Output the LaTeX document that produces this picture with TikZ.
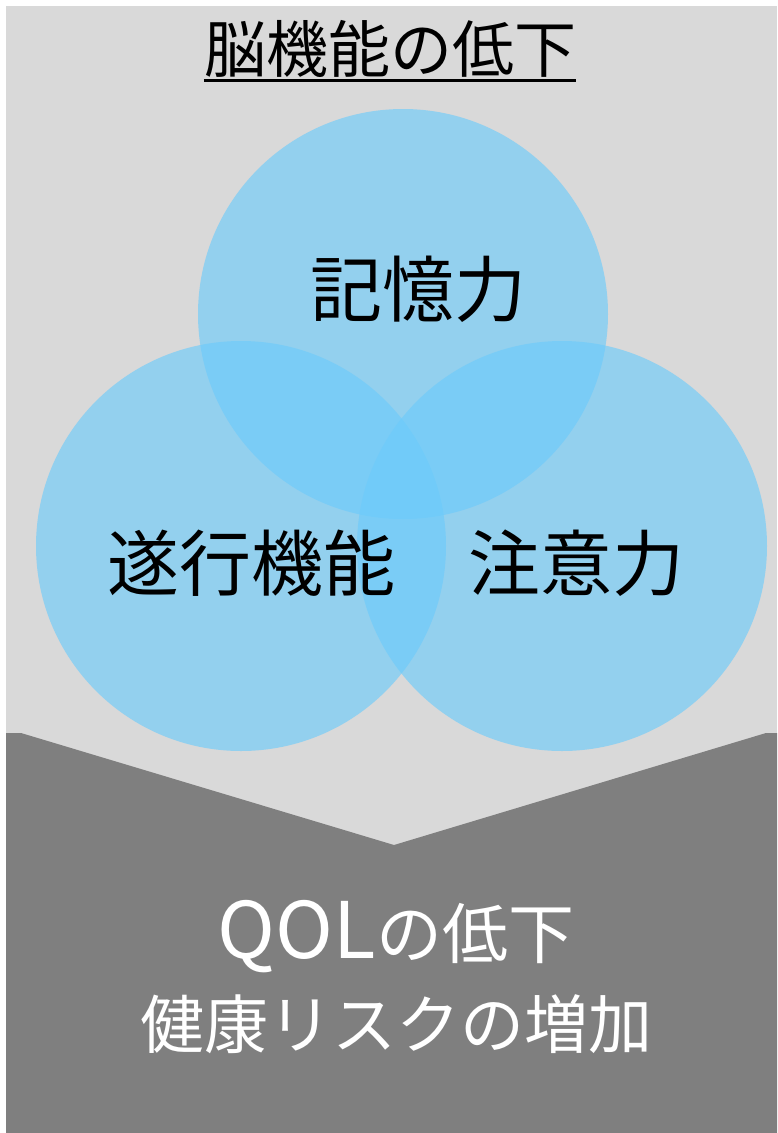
\documentclass[tikz,border=0pt]{standalone}
\usepackage{fontspec}
\newfontfamily\jp{Noto Sans CJK JP}
\definecolor{bglight}{RGB}{217,217,217}
\definecolor{bgdark}{RGB}{127,127,127}
\definecolor{bubble}{RGB}{108,203,251}
\tikzset{
  bubblenode/.style={circle, minimum size=410pt, inner sep=0pt, fill=bubble, fill opacity=0.64, draw=none},
  darklabel/.style={font=\jp\fontsize{72}{80}\selectfont, text=black, inner sep=0pt},
  lightlabel/.style={font=\jp\fontsize{64}{72}\selectfont, text=white, inner sep=0pt, anchor=base},
}
\begin{document}
\begin{tikzpicture}[x=1pt,y=-1pt]
\useasboundingbox (0,0) rectangle (777,1133);
\fill[white] (0,0) rectangle (777,1133);
\fill[bglight] (6,6) rectangle (777,1133);
\fill[bgdark] (6,733) -- (21,733) -- (394,845) -- (766,733) -- (777,733) -- (777,1133) -- (6,1133) -- cycle;
\node[bubblenode] (mem) at (403,314) {};
\node[bubblenode] (exe) at (241,546) {};
\node[bubblenode] (att) at (562,546) {};
\node[font=\jp\fontsize{62}{70}\selectfont, inner sep=0pt, anchor=base] (title) at (390,72) {脳機能の低下};
\draw[line width=3pt] ([yshift=-8.5pt]title.base west) -- ([yshift=-8.5pt]title.base east);
\node[darklabel] (memt) at (418,289) {記憶力};
\node[darklabel] (exet) at (251,563) {遂行機能};
\node[darklabel] (attt) at (576,563) {注意力};
\node[lightlabel, font=\jp\fontsize{66}{72}\selectfont] (qol) at (396,958) {{\fontsize{78}{80}\selectfont QOL}の低下};
\node[lightlabel] (risk) at (396,1048) {健康リスクの増加};
\end{tikzpicture}
\end{document}
